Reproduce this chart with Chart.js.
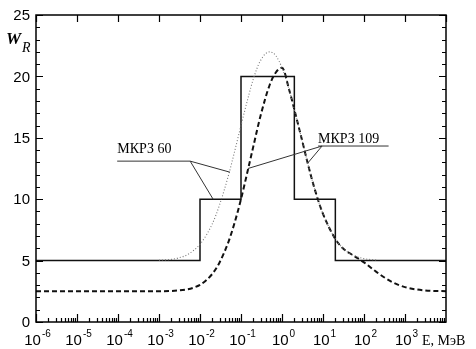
<!DOCTYPE html>
<html>
<head>
<meta charset="utf-8">
<script src="https://cdn.jsdelivr.net/npm/chart.js@4.4.1/dist/chart.umd.min.js"></script>
<style>
  html, body { margin: 0; padding: 0; background: #fff; }
  #wrap { width: 476px; height: 349px; position: relative; }
</style>
</head>
<body>
<div id="wrap"><canvas id="wr"></canvas></div>
<script>
// ICRP 60 step function (energy boundaries, MeV, and weighting factor)
var stepE = [1e-6, 0.01, 0.1, 2, 20, 1e4];
var stepW = [5, 10, 20, 10, 5, 5];

// ICRP 60 continuous curve (dotted)
var dotE = [1e-3, 2e-3, 3e-3, 5e-3, 0.01, 0.02, 0.03, 0.05, 0.07, 0.1, 0.15, 0.2, 0.3, 0.5, 0.7, 1, 1.5, 2, 3, 5, 7, 10, 20, 30, 50, 100, 200];
var dotW = [5.03, 5.1, 5.22, 5.5, 6.33, 8.0, 9.54, 12.0, 13.9, 16.0, 18.3, 19.8, 21.3, 22.0, 21.7, 20.7, 18.9, 17.3, 14.96, 12.0, 10.3, 8.8, 6.76, 6.03, 5.5, 5.16, 5.05];

// ICRP 103/109 curve (dashed)
var dashE = [1e-6, 1e-4, 1e-3, 3e-3, 0.01, 0.02, 0.03, 0.05, 0.07, 0.1, 0.15, 0.2, 0.3, 0.5, 0.7, 1, 1.5, 2, 3, 5, 7, 10, 20, 30, 50, 70, 100, 200, 500, 1000, 3000, 1e4];
var dashW = [2.5, 2.5, 2.51, 2.57, 3.03, 3.92, 4.85, 6.57, 8.1, 10.0, 12.5, 14.3, 16.8, 19.3, 20.3, 20.7, 18.9, 17.3, 14.96, 12.0, 10.3, 8.8, 6.76, 6.03, 5.5, 5.2, 4.86, 4.08, 3.23, 2.84, 2.57, 2.51];

// axis ticks
var xDecades = [-6, -5, -4, -3, -2, -1, 0, 1, 2, 3, 4];
var yTicks = [0, 5, 10, 15, 20, 25];
var yLabels = ['0', '5', '10', '15', '20', '25'];

function pts(xs, ys) {
    var out = [];
    for (var i = 0; i < xs.length; i++) out.push({ x: xs[i], y: ys[i] });
    return out;
}

// annotation anchors in data units (label text, underline, leader line ends)
var notes = [
    { text: 'МКРЗ 60', tx: 10 ** -4.02, ty: 13.75, ux0: 10 ** -4.02, ux1: 10 ** -2.24, uy: 13.1, from: 'right',
      ends: [[10 ** -1.27, 12.2], [10 ** -1.68, 10]] },
    { text: 'МКРЗ 109', tx: 10 ** 0.88, ty: 14.6, ux0: 10 ** 0.88, ux1: 10 ** 2.6, uy: 14.33, from: 'left',
      ends: [[10 ** -0.83, 12.5], [10 ** 0.63, 12.95]] }
];

var framePlugin = {
    id: 'frame',
    afterDraw: function (chart) {
        var ctx = chart.ctx;
        var xs = chart.scales.x, ys = chart.scales.y;
        var a = chart.chartArea;
        ctx.save();
        ctx.strokeStyle = '#000';
        ctx.fillStyle = '#000';
        ctx.lineWidth = 1.5;
        ctx.strokeRect(a.left, a.top, a.right - a.left, a.bottom - a.top);

        ctx.lineWidth = 1.2;
        ctx.beginPath();
        // y ticks left and right
        for (var v = 0; v <= 25; v++) {
            var py = Math.round(ys.getPixelForValue(v)) + 0.5;
            var len = (v % 5 === 0) ? 7 : 4;
            ctx.moveTo(a.left, py); ctx.lineTo(a.left + len, py);
            ctx.moveTo(a.right, py); ctx.lineTo(a.right - len, py);
        }
        // x ticks bottom (major + minor) and top (major)
        for (var d = -6; d < 4; d++) {
            for (var m = 1; m < 10; m++) {
                var px = Math.round(xs.getPixelForValue(m * Math.pow(10, d))) + 0.5;
                var l = (m === 1) ? 8 : 4;
                ctx.moveTo(px, a.bottom); ctx.lineTo(px, a.bottom - l);
            }
        }
        xDecades.forEach(function (d) {
            var px = Math.round(xs.getPixelForValue(Math.pow(10, d))) + 0.5;
            ctx.moveTo(px, a.top); ctx.lineTo(px, a.top + 7);
        });
        ctx.stroke();

        // y labels
        ctx.font = '15px "Liberation Sans", Arial, sans-serif';
        ctx.textAlign = 'right';
        ctx.textBaseline = 'middle';
        yTicks.forEach(function (v, i) {
            ctx.fillText(yLabels[i], a.left - 6, ys.getPixelForValue(v) + 1);
        });

        // x labels: 10^n
        ctx.textBaseline = 'alphabetic';
        xDecades.forEach(function (d) {
            if (d === 4) return;
            var px = xs.getPixelForValue(Math.pow(10, d));
            var base = '10', sup = String(d);
            ctx.font = '15px "Liberation Sans", Arial, sans-serif';
            var w1 = ctx.measureText(base).width;
            ctx.font = '10px "Liberation Sans", Arial, sans-serif';
            var w2 = ctx.measureText(sup).width;
            var x0 = px - (w1 + w2) / 2 + 1;
            ctx.textAlign = 'left';
            ctx.font = '15px "Liberation Sans", Arial, sans-serif';
            ctx.fillText(base, x0, a.bottom + 23);
            ctx.font = '10px "Liberation Sans", Arial, sans-serif';
            ctx.fillText(sup, x0 + w1 + 1, a.bottom + 15);
        });
        ctx.font = '14px "Liberation Serif", "Times New Roman", serif';
        ctx.textAlign = 'left';
        ctx.fillText('E, МэВ', xs.getPixelForValue(1e3) + 17, a.bottom + 23);

        // W_R axis title
        ctx.font = 'italic bold 17px "Liberation Serif", "Times New Roman", serif';
        ctx.fillText('W', 6, 44);
        ctx.font = 'italic 14px "Liberation Serif", "Times New Roman", serif';
        ctx.fillText('R', 22, 52);

        // annotations
        ctx.lineWidth = 1;
        ctx.strokeStyle = '#333';
        notes.forEach(function (n) {
            ctx.font = '14px "Liberation Serif", "Times New Roman", serif';
            ctx.textAlign = 'left';
            ctx.fillStyle = '#000';
            ctx.fillText(n.text, xs.getPixelForValue(n.tx), ys.getPixelForValue(n.ty));
            var uy = ys.getPixelForValue(n.uy);
            var x0 = xs.getPixelForValue(n.ux0), x1 = xs.getPixelForValue(n.ux1);
            var ox = (n.from === 'right') ? x1 : x0 + 4;
            ctx.beginPath();
            ctx.moveTo(x0, uy); ctx.lineTo(x1, uy);
            n.ends.forEach(function (e) {
                ctx.moveTo(ox, uy);
                ctx.lineTo(xs.getPixelForValue(e[0]), ys.getPixelForValue(e[1]));
            });
            ctx.stroke();
        });
        ctx.restore();
    }
};

new Chart(document.getElementById('wr'), {
    type: 'line',
    data: {
        datasets: [
            {
                label: 'МКРЗ 60 (continuous)',
                data: pts(dotE, dotW),
                borderColor: '#777',
                borderWidth: 1.1,
                borderDash: [1, 2],
                pointRadius: 0,
                cubicInterpolationMode: 'monotone',
                fill: false
            },
            {
                label: 'МКРЗ 109',
                data: pts(dashE, dashW),
                borderColor: '#111',
                borderWidth: 2,
                borderDash: [5, 3],
                pointRadius: 0,
                cubicInterpolationMode: 'monotone',
                fill: false
            },
            {
                label: 'МКРЗ 60',
                data: pts(stepE, stepW),
                borderColor: '#111',
                borderWidth: 1.5,
                stepped: 'before',
                pointRadius: 0,
                fill: false
            }
        ]
    },
    options: {
        responsive: true,
        maintainAspectRatio: false,
        animation: false,
        layout: { padding: { left: 36, top: 15, right: 30, bottom: 27 } },
        plugins: { legend: { display: false }, tooltip: { enabled: false } },
        scales: {
            x: { type: 'logarithmic', min: 1e-6, max: 1e4, display: false },
            y: { type: 'linear', min: 0, max: 25, display: false }
        }
    },
    plugins: [framePlugin]
});
</script>
</body>
</html>
